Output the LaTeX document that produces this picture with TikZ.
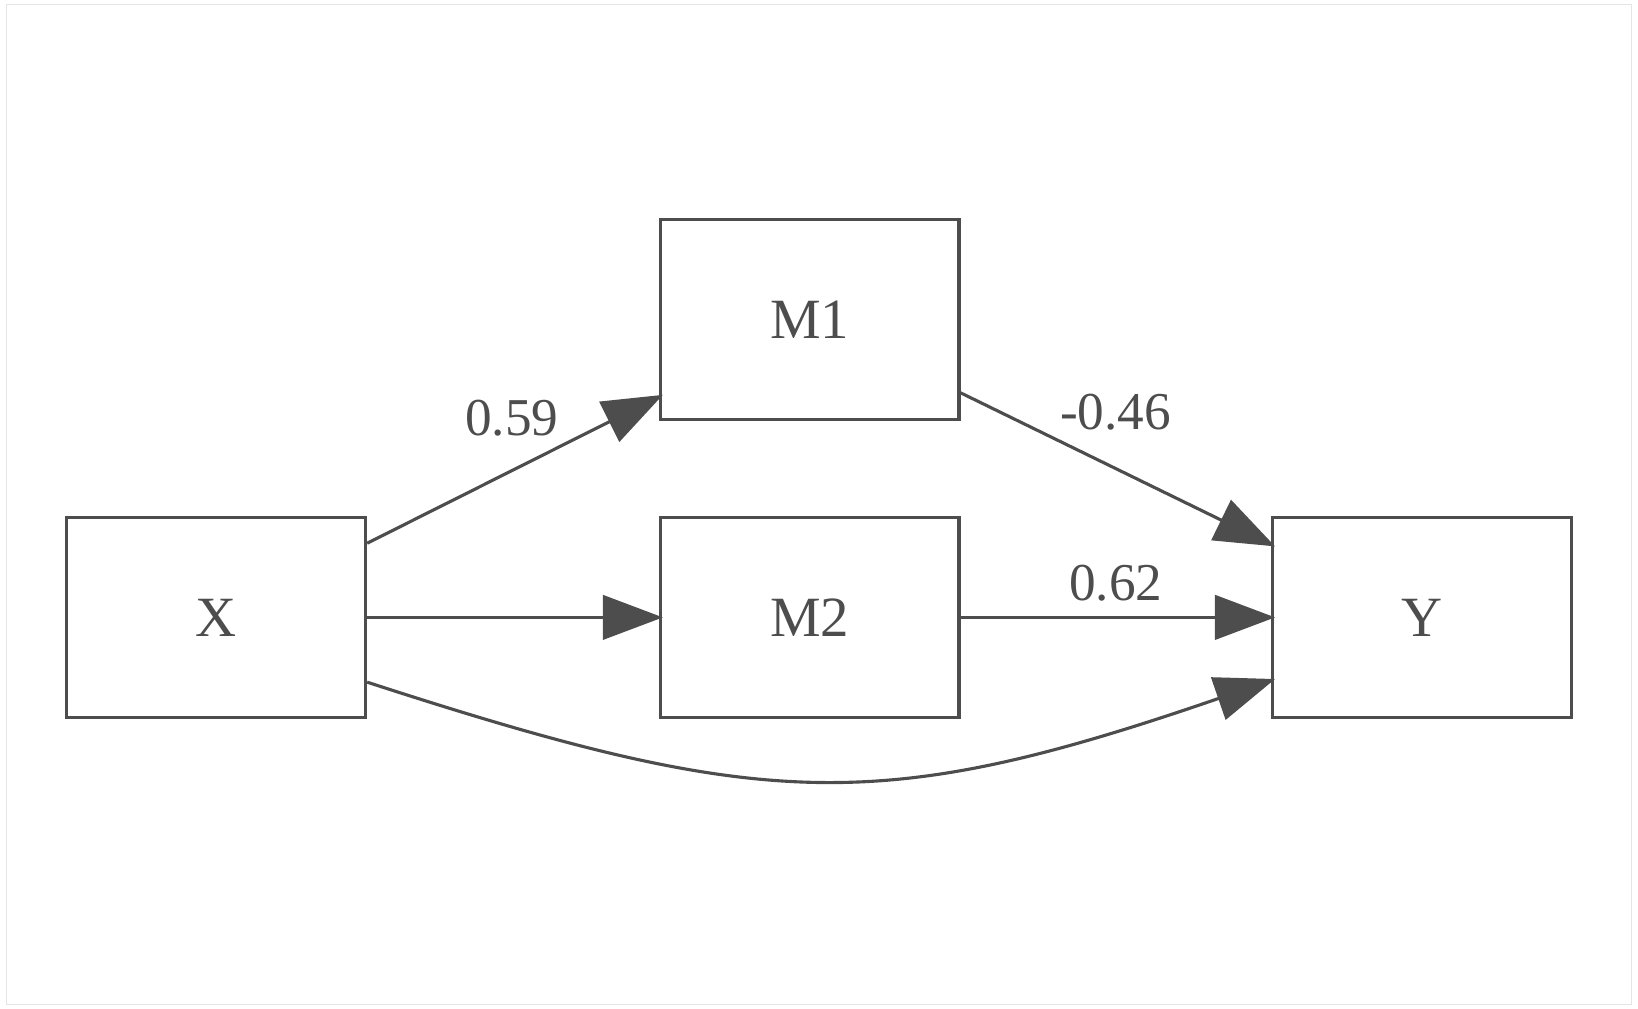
\documentclass[tikz,border=0pt]{standalone}
\usepackage{fontspec}
\setmainfont{Liberation Serif}
\usetikzlibrary{arrows.meta}
\definecolor{ink}{HTML}{4D4D4D}
\begin{document}
\begin{tikzpicture}[x=0.02cm,y=-0.02cm,
  box/.style={draw=ink,line width=1.7pt,minimum width=5.72cm,minimum height=3.82cm,inner sep=0pt,text=ink,font=\fontsize{31}{34}\selectfont},
  edge/.style={draw=ink,line width=1.7pt,-{Triangle[length=1.15cm,width=0.85cm]}},
  lab/.style={text=ink,font=\fontsize{29}{32}\selectfont}]
\useasboundingbox (0,0) rectangle (1568,965);
\draw[gray!20] (6,4) rectangle (1562,961);
\node[box] (X) at (207,591) {X};
\node[box] (M1) at (775,306) {M1};
\node[box] (M2) at (775,591) {M2};
\node[box] (Y) at (1361,591) {Y};
\draw[edge] ([yshift=1.42cm]X.east) -- ([xshift=0.08cm,yshift=0.5cm]M1.south west);
\draw[edge] (X.east) -- ([xshift=0.08cm]M2.west);
\draw[edge] ([yshift=-1.4cm]M1.east) -- ([xshift=0.08cm,yshift=1.36cm]Y.west);
\draw[edge] (M2.east) -- ([xshift=0.08cm]Y.west);
\draw[edge] ([yshift=-1.24cm]X.east) .. controls +(-18:8cm) and +(199:8cm) .. ([xshift=0.08cm,yshift=-1.18cm]Y.west);
\node[lab] (l1) at (490,400) {0.59};
\node[lab] (l2) at (1068,395) {-0.46};
\node[lab] (l3) at (1068,558) {0.62};
\end{tikzpicture}
\end{document}
